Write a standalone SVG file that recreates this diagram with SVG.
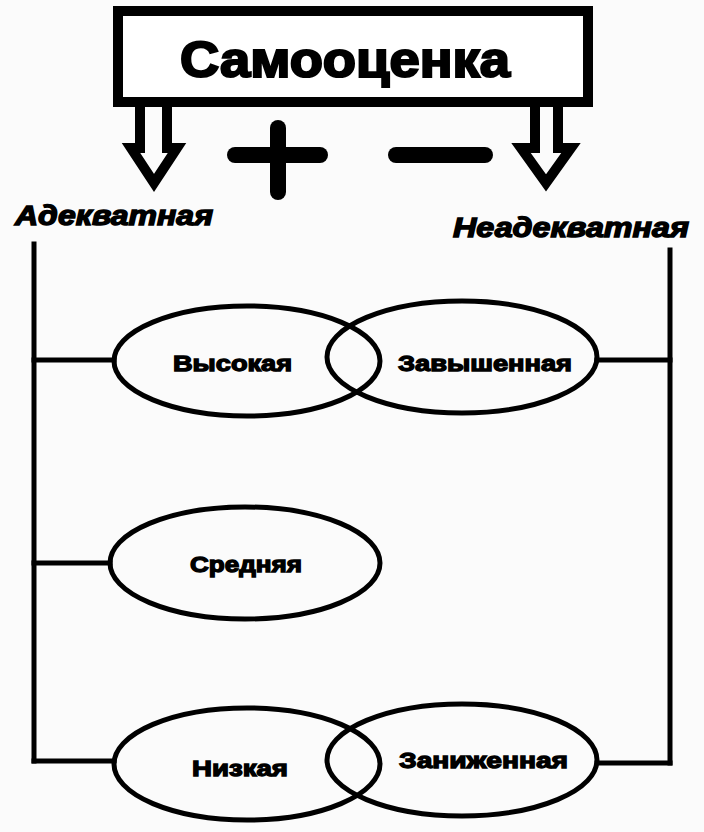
<svg xmlns="http://www.w3.org/2000/svg" width="704" height="832" viewBox="0 0 704 832">
<style>
.ln{stroke:#000;stroke-width:5;fill:none;stroke-linecap:square}
.el{stroke:#000;stroke-width:5;fill:none}
.lbl{font-family:"Liberation Sans",Arial,sans-serif;font-weight:bold;font-size:22px;fill:#000;stroke:#000;stroke-width:1.3;text-anchor:start}
.side{font-family:"Liberation Sans",Arial,sans-serif;font-weight:bold;font-style:italic;font-size:27px;fill:#000;stroke:#000;stroke-width:1.4}
.arrow{fill:none;stroke:#000;stroke-width:10;stroke-linejoin:miter}
.sign{stroke:#000;stroke-width:16;stroke-linecap:round}
</style>
<rect width="704" height="832" fill="#fbfbfb"/>
<g id="title">
<rect x="118" y="11" width="470" height="91" fill="#fff" stroke="#000" stroke-width="10"/>
<text x="180" y="77" font-family="'Liberation Sans',Arial,sans-serif" font-weight="bold" font-size="50" stroke="#000" stroke-width="2.2" textLength="330" lengthAdjust="spacingAndGlyphs">Самооценка</text>
</g>
<g id="arrow-left">
<polygon class="arrow" points="140,102 140,148 131,148 154,183 177,148 167,148 167,102"/>
</g>
<g id="arrow-right">
<polygon class="arrow" points="535,102 535,148 521,148 546,183 571,148 558,148 558,102"/>
</g>
<g id="plus">
<line class="sign" x1="235" y1="155" x2="320" y2="155"/>
<line class="sign" x1="278" y1="128" x2="278" y2="192"/>
</g>
<g id="minus">
<line class="sign" x1="396" y1="155" x2="485" y2="155"/>
</g>
<g id="adequate">
<text class="side" x="15" y="225" textLength="198" lengthAdjust="spacingAndGlyphs">Адекватная</text>
</g>
<g id="inadequate">
<text class="side" x="453" y="237" textLength="236" lengthAdjust="spacingAndGlyphs">Неадекватная</text>
</g>
<g id="connectors">
<line class="ln" x1="34" y1="244" x2="34" y2="761"/>
<line class="ln" x1="34" y1="360" x2="114" y2="360"/>
<line class="ln" x1="34" y1="563" x2="110" y2="563"/>
<line class="ln" x1="34" y1="761" x2="114" y2="761"/>
<line class="ln" x1="670" y1="250" x2="670" y2="763"/>
<line class="ln" x1="597" y1="360" x2="670" y2="360"/>
<line class="ln" x1="597" y1="763" x2="670" y2="763"/>
</g>
<g id="vysokaya">
<ellipse class="el" cx="247" cy="361" rx="133" ry="55"/>
<text class="lbl" x="173" y="371" textLength="119" lengthAdjust="spacingAndGlyphs">Высокая</text>
</g>
<g id="zavyshennaya">
<ellipse class="el" cx="462" cy="357" rx="135" ry="56"/>
<text class="lbl" x="398" y="371" textLength="174" lengthAdjust="spacingAndGlyphs">Завышенная</text>
</g>
<g id="srednyaya">
<ellipse class="el" cx="245" cy="563" rx="135" ry="56"/>
<text class="lbl" x="190" y="572" textLength="112" lengthAdjust="spacingAndGlyphs">Средняя</text>
</g>
<g id="nizkaya">
<ellipse class="el" cx="247" cy="764" rx="133" ry="56"/>
<text class="lbl" x="192" y="776" textLength="96" lengthAdjust="spacingAndGlyphs">Низкая</text>
</g>
<g id="zanizhennaya">
<ellipse class="el" cx="462" cy="760" rx="135" ry="56"/>
<text class="lbl" x="399" y="768" textLength="169" lengthAdjust="spacingAndGlyphs">Заниженная</text>
</g>
</svg>
